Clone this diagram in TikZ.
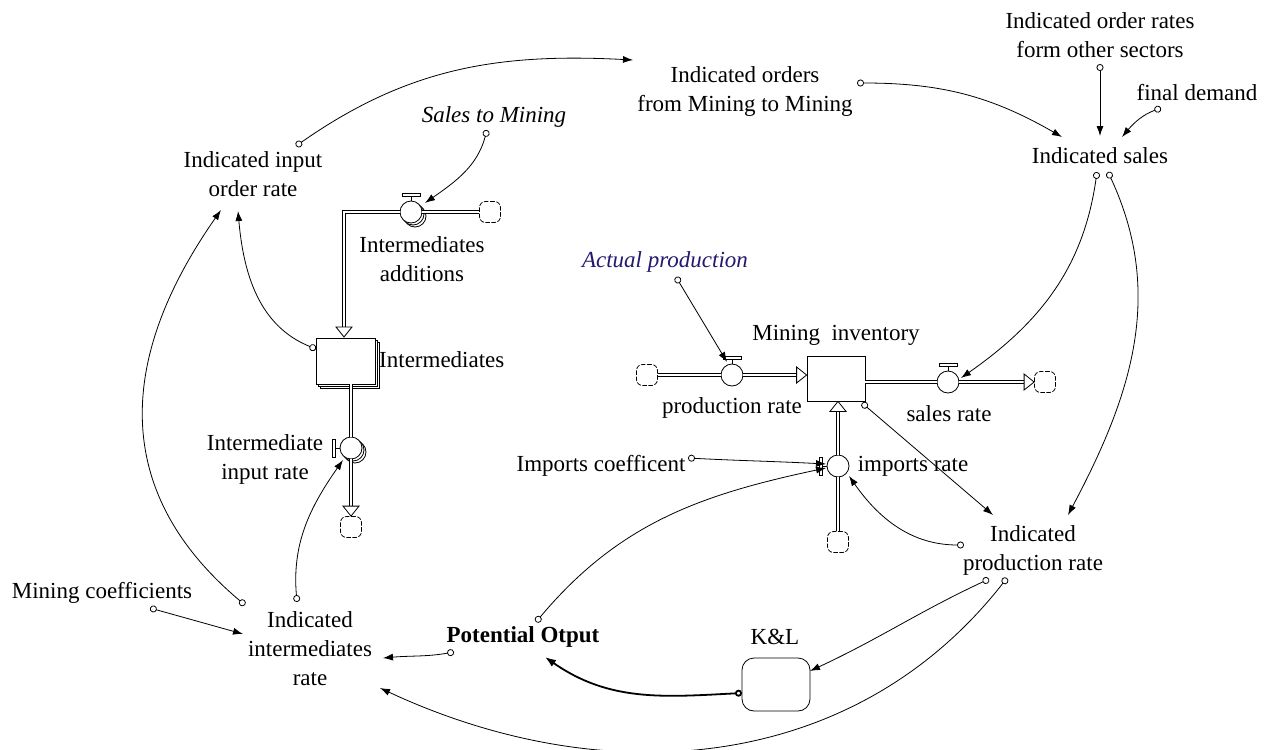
\documentclass[tikz,border=0pt]{standalone}
\usepackage{fontspec}
\setmainfont{Liberation Serif}
\usetikzlibrary{arrows.meta,calc}
\definecolor{shadowblue}{RGB}{35,25,110}

\tikzset{
  lbl/.style={inner sep=0pt, align=center, font=\fontsize{23}{29}\selectfont},
  link/.style={line width=0.8pt, {Circle[open,length=7pt,width=7pt]}-{Latex[length=10pt,width=7pt]}},
  pipe/.style={double=white, double distance=2.4pt, line width=0.9pt},
  valve/.style={circle, draw, fill=white, line width=0.8pt, minimum size=22pt, inner sep=0pt},
  cloud/.style={draw, rounded corners=6pt, minimum size=21pt, inner sep=0pt, line width=0.8pt, dash pattern=on 4.5pt off 1.6pt},
  stock/.style={draw, fill=white, line width=0.8pt, inner sep=0pt},
  pics/fhead/.style={code={\draw[fill=white,line width=0.8pt] (0,0) -- (-10,8) -- (-10,-8) -- cycle;}},
  pics/handtop/.style={code={\draw[line width=0.8pt] (0,0) -- (0,4);
      \draw[fill=white,line width=0.8pt] (-9,4) rectangle (9,7.5);}},
}

\begin{document}
\begin{tikzpicture}[x=1pt,y=1pt]
\useasboundingbox (0,0) rectangle (1267,-750);

% ---------- labels ----------
\node[lbl] (ioM)  at (745,-91)  {Indicated orders\\from Mining to Mining};
\node[lbl] (ior)  at (1100,-35) {Indicated order rates\\form other sectors};
\node[lbl] (fd)   at (1197,-93) {final demand};
\node[lbl] (is)   at (1100,-156) {Indicated sales};
\node[lbl, font=\fontsize{23}{29}\selectfont\itshape] (stm) at (494,-117) {Sales to Mining};
\node[lbl] (io)   at (253,-174) {Indicated input\\order rate};
\node[lbl] (ia)   at (422,-259) {Intermediates\\additions};
\node[lbl, text=shadowblue, font=\fontsize{23}{29}\selectfont\itshape] (ap) at (665,-262) {Actual production};
\node[lbl] (mi)   at (836,-335) {Mining\ \ inventory};
\node[lbl, anchor=west] (inl) at (379,-360) {Intermediates};
\node[lbl] (pr)   at (732,-408) {production rate};
\node[lbl] (sr)   at (949,-414) {sales rate};
\node[lbl] (iir)  at (265,-459) {Intermediate\\input rate};
\node[lbl] (ic)   at (601,-466) {Imports coefficent};
\node[lbl] (imr)  at (913,-466) {imports rate};
\node[lbl] (ipr)  at (1033,-550) {Indicated\\production rate};
\node[lbl] (mc)   at (102,-593) {Mining coefficients};
\node[lbl] (iim)  at (310,-649) {Indicated\\intermediates\\rate};
\node[lbl, font=\fontsize{23}{29}\selectfont\bfseries] (po) at (523,-637) {Potential Otput};
\node[lbl] (kl)   at (775,-637) {K\&L};

% ---------- stocks ----------
\draw[fill=white,line width=0.8pt] (320,-342) rectangle (379,-388);
\draw[fill=white,line width=0.8pt] (318,-340) rectangle (377,-386);
\node[stock, minimum width=59pt, minimum height=46pt] (stI) at (345.5,-361) {};
\node[stock, minimum width=58pt, minimum height=45pt] (stM) at (836,-378.5) {};
\node[draw, line width=0.8pt, rounded corners=12pt, minimum width=68pt, minimum height=53pt] (KL) at (776,-684.5) {};

% ---------- valves and clouds ----------
\draw[fill=white,line width=0.8pt] (415,-216) circle (11);
\draw[fill=white,line width=0.8pt] (413,-214) circle (11);
\node[valve] (V1) at (411,-212) {};
\draw[fill=white,line width=0.8pt] (355,-452) circle (11);
\draw[fill=white,line width=0.8pt] (353,-450) circle (11);
\node[valve] (V2) at (351,-448) {};
\node[valve] (V3) at (732,-375) {};
\node[valve] (V4) at (948,-382) {};
\node[valve] (V5) at (838,-466) {};

\node[cloud] (C1) at (490,-212) {};
\node[cloud] (C2) at (351,-527) {};
\node[cloud] (C3) at (647,-375) {};
\node[cloud] (C4) at (1045,-382) {};
\node[cloud] (C5) at (838,-542) {};

% ---------- flow pipes ----------
\coordinate (k1) at (344,-212);
\draw[pipe] (C1.west) -- (V1.east);
\draw[pipe] (V1.west) -- (k1) -- ($(k1)+(0,-115)$);
\pic at ($(k1)+(0,-125)$) [rotate=-90] {fhead};

\draw[pipe] (351,-384) -- (V2.north);
\draw[pipe] (V2.south) -- ($(C2.north)+(0,-0.5)+(0,10)$);
\pic at (C2.north) [rotate=-90] {fhead};

\draw[pipe] (C3.east) -- (V3.west);
\draw[pipe] (V3.east) -- ($(stM.west |- V3)+(-10,0)$);
\pic at (stM.west |- V3) {fhead};

\draw[pipe] (stM.east |- V4) -- (V4.west);
\draw[pipe] (V4.east) -- ($(C4.west)+(-10,0)$);
\pic at (C4.west) {fhead};

\draw[pipe] (C5.north) -- (V5.south);
\draw[pipe] (V5.north) -- ($(V5 |- stM.south)+(0,-10)$);
\pic at (V5 |- stM.south) [rotate=90] {fhead};

% ---------- valve handles ----------
\pic at (V1.north) {handtop};
\pic at (V3.north) {handtop};
\pic at (V4.north) {handtop};
\pic at (V2.west) [rotate=90] {handtop};
\pic at (V5.west) [rotate=90] {handtop};

% ---------- connector end points ----------
\coordinate (ioT)  at (296,-146);
\coordinate (ioMH) at (633,-60);
\coordinate (ioMT) at (857,-83);
\coordinate (isH1) at (1062,-137);
\coordinate (iorT) at (1100,-64);
\coordinate (isH2) at (1100,-136);
\coordinate (fdT)  at (1161,-108);
\coordinate (isH3) at (1122,-137);
\coordinate (isT1) at (1097,-172);
\coordinate (isT2) at (1108,-172);
\coordinate (V4H)  at (961,-378);
\coordinate (iprH1) at (1068,-515);
\coordinate (iprH2) at (993,-515);
\coordinate (apT)  at (676,-277);
\coordinate (V3H)  at (727,-362);
\coordinate (stMT) at (862,-403);
\coordinate (icT)  at (688,-458);
\coordinate (V5H1) at (826,-464);
\coordinate (V5H2) at (826,-468);
\coordinate (V5H3) at (849,-476);
\coordinate (poT1) at (536,-622);
\coordinate (poT2) at (454,-652);
\coordinate (poH)  at (545,-657);
\coordinate (iprT1) at (964,-545);
\coordinate (iprT2) at (989,-579);
\coordinate (iprT3) at (1007,-578);
\coordinate (KLH)  at (810,-671);
\coordinate (KLT)  at (742,-693);
\coordinate (iimH1) at (380,-688);
\coordinate (iimH2) at (383,-658);
\coordinate (iimH3) at (243,-634);
\coordinate (mcT)  at (150,-608);
\coordinate (iimT1) at (245,-605);
\coordinate (iimT2) at (297,-602);
\coordinate (ioH1) at (221,-210);
\coordinate (ioH2) at (238,-211);
\coordinate (V2H)  at (343,-460);
\coordinate (stIT) at (316,-349);
\coordinate (stmT) at (487,-130);
\coordinate (V1H)  at (425,-203);

% ---------- connectors ----------
\draw[link] (ioT) to[out=35,in=177] (ioMH);
\draw[link] (ioMT) to[out=0,in=150] (isH1);
\draw[link] (iorT) -- (isH2);
\draw[link] (fdT) to[out=200,in=50] (isH3);
\draw[link] (isT1) to[out=-98,in=35] (V4H);
\draw[link] (isT2) to[out=-65,in=62] (iprH1);
\draw[link] (apT) -- (V3H);
\draw[link] (stMT) -- (iprH2);
\draw[link] (icT) to[out=-3,in=177] (V5H1);
\draw[link] (poT1) to[out=50,in=192] (V5H2);
\draw[link] (iprT1) to[out=180,in=-55] (V5H3);
\draw[link] (iprT2) to[out=205,in=25] (KLH);
\draw[link] (iprT3) to[out=-128,in=-25] (iimH1);
\draw[line width=1.8pt, {Circle[open,length=7pt,width=7pt]}-{Latex[length=11pt,width=8pt]}] (KLT) to[out=183,in=-35] (poH);
\draw[link] (poT2) to[out=190,in=5] (iimH2);
\draw[link] (mcT) -- (iimH3);
\draw[link] (iimT1) to[out=140,in=-125,looseness=1.15] (ioH1);
\draw[link] (iimT2) to[out=95,in=-125] (V2H);
\draw[link] (stIT) to[out=158,in=-85] (ioH2);
\draw[link] (stmT) to[out=-105,in=35] (V1H);
\end{tikzpicture}
\end{document}
